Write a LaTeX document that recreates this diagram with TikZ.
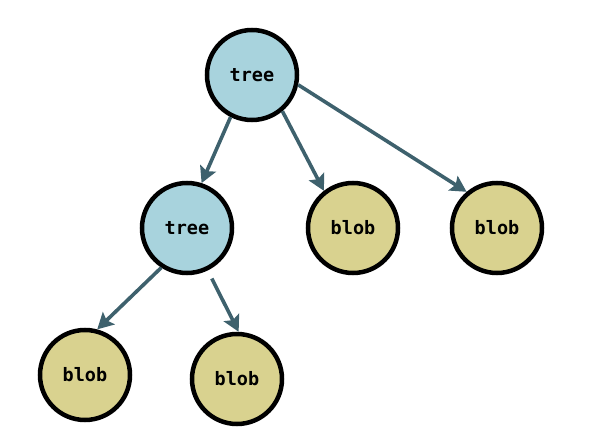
\documentclass[tikz,border=0pt]{standalone}
\usepackage{fontspec}
\newfontfamily\monob{DejaVu Sans Mono}[BoldFont={DejaVu Sans Mono Bold}]
\usetikzlibrary{arrows.meta}
\definecolor{treefill}{HTML}{A8D3DD}
\definecolor{blobfill}{HTML}{D9D28F}
\definecolor{edgecol}{HTML}{3E616D}
\begin{document}
\begin{tikzpicture}[x=1pt,y=-1pt,
  nodebase/.style={circle,draw=black,line width=4.5pt,minimum size=90pt,inner sep=0pt,
    font=\monob\bfseries\fontsize{18.5}{20}\selectfont},
  treenode/.style={nodebase,fill=treefill},
  blobnode/.style={nodebase,fill=blobfill},
  arr/.style={draw=edgecol,line width=3.6pt,
    -{Stealth[length=16pt,width=17pt,inset=3pt]}}]
\useasboundingbox (0,0) rectangle (590,447);
\node[treenode] (root) at (252,75) {tree};
\node[treenode] (t2) at (187,228) {tree};
\node[blobnode] (bm) at (353,228) {blob};
\node[blobnode] (br) at (497,228) {blob};
\node[blobnode] (bl) at (85,375) {blob};
\node[blobnode] (bb) at (237,379) {blob};
\draw[arr] (root.-117) -- (t2.72);
\draw[arr] (root.-50) -- (bm.128);
\draw[arr] (root.-12) -- (br.130);
\draw[arr] (t2.-123) -- (bl.75);
\draw[arr,shorten <=9pt] (t2.-64) -- (bb.88);
\end{tikzpicture}
\end{document}
